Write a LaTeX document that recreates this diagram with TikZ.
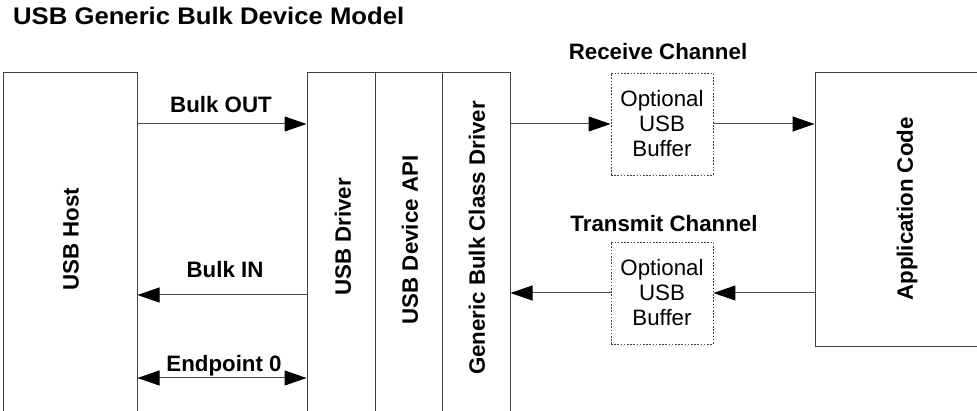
\documentclass[tikz,border=0pt]{standalone}
\usepackage{fontspec}
\setmainfont{Liberation Sans}
\newfontfamily\titlefont[FakeStretch=1.07]{Liberation Sans Bold}
\usetikzlibrary{arrows.meta}
\begin{document}
\begin{tikzpicture}[x=1pt,y=-1pt,
  box/.style={draw=black!75,line width=1pt,rectangle,inner sep=0pt},
  bufbox/.style={draw=black!75,line width=0.9pt,dash pattern=on 1.6pt off 1.6pt,rectangle,inner sep=0pt,minimum width=102pt,minimum height=102pt,align=center,font=\fontsize{22.3}{25}\selectfont},
  lbl/.style={font=\bfseries\fontsize{22.3}{26}\selectfont,inner sep=0pt},
  vlbl/.style={lbl,rotate=90},
  conn/.style={draw=black!70,line width=1pt},
  tip/.style={-{Triangle[length=22pt,width=15pt,fill=black,color=black]}},
  tips/.style={{Triangle[length=22pt,width=15pt,fill=black,color=black]}-{Triangle[length=22pt,width=15pt,fill=black,color=black]}}
]
\useasboundingbox (0,0) rectangle (977,411);
% title
\node[inner sep=0pt,anchor=base west,font=\titlefont\fontsize{24}{28}\selectfont] (title) at (13,25) {USB Generic Bulk Device Model};
% boxes
\node[box,minimum width=134pt,minimum height=380pt] (host) at (70,263) {};
\node[box,minimum width=68pt,minimum height=380pt] (drv) at (341,263) {};
\node[box,minimum width=67pt,minimum height=380pt] (api) at (408.5,263) {};
\node[box,minimum width=68pt,minimum height=380pt] (gbc) at (476,263) {};
\node[box,minimum width=200pt,minimum height=274pt] (app) at (915,210) {};
% vertical labels
\node[vlbl] (hostl) at (71,239) {USB Host};
\node[vlbl] (drvl) at (343,237) {USB Driver};
\node[vlbl] (apil) at (410,240) {USB Device API};
\node[vlbl] (gbcl) at (477,238) {Generic Bulk Class Driver};
\node[vlbl] (appl) at (907,209) {Application Code};
% buffers
\node[bufbox] (rbuf) at (662,124) {Optional\\USB\\Buffer};
\node[bufbox] (tbuf) at (662,293) {Optional\\USB\\Buffer};
\node[lbl,anchor=base] (rcl) at (658,60) {Receive Channel};
\node[lbl,anchor=base] (tcl) at (664,232) {Transmit Channel};
% host-side connectors
\coordinate (h1) at (host.east |- 0,124);
\coordinate (d1) at (drv.west |- 0,124);
\coordinate (h2) at (host.east |- 0,295);
\coordinate (d2) at (drv.west |- 0,295);
\coordinate (h3) at (host.east |- 0,378);
\coordinate (d3) at (drv.west |- 0,378);
\draw[conn,tip] (h1) -- (d1);
\draw[conn,tip] (d2) -- (h2);
\draw[conn,tips] (h3) -- (d3);
\node[lbl,anchor=base] (outl) at (221,113) {Bulk OUT};
\node[lbl,anchor=base] (inl) at (225,278) {Bulk IN};
\node[lbl,anchor=base] (ep0) at (224,372) {Endpoint 0};
% channel connectors
\coordinate (g1) at (gbc.east |- rbuf.west);
\coordinate (a1) at (app.west |- rbuf.east);
\coordinate (g2) at (gbc.east |- tbuf.west);
\coordinate (a2) at (app.west |- tbuf.east);
\draw[conn,tip] (g1) -- (rbuf.west);
\draw[conn,tip] (rbuf.east) -- (a1);
\draw[conn,tip] (a2) -- (tbuf.east);
\draw[conn,tip] (tbuf.west) -- (g2);
\end{tikzpicture}
\end{document}
